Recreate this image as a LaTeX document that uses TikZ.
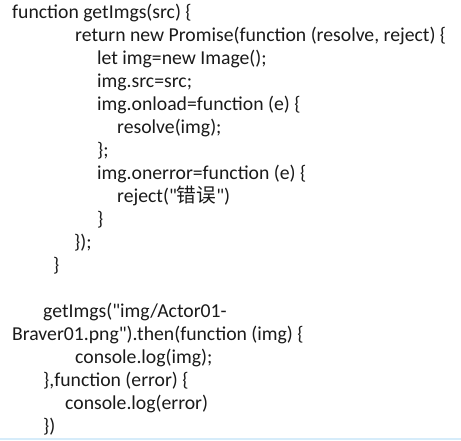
\documentclass[tikz,border=0pt]{standalone}
\usepackage{fontspec}
\setmainfont{Carlito}
\newfontfamily\cjkfont{Noto Sans CJK SC}
\usepackage{tikz}
\definecolor{codetext}{HTML}{1A1A1A}
\definecolor{edgeblue}{HTML}{D6ECFA}
\tikzset{codeline/.style={anchor=base west, inner sep=0pt, text=codetext, font=\fontsize{19.7}{23}\selectfont}}

\begin{document}
\begin{tikzpicture}[x=1pt, y=-1pt]
	% Page frame
	\useasboundingbox[fill=white] (0,0) rectangle (461,440);
	\draw[edgeblue, line width=1.5pt] (0,439) -- (461,439);

	% Default action for each node
	\tikzstyle{every node}=[codeline];

	% getImgs definition
	\node (l1)  at (12,18.5)  {function getImgs(src) \{};
	\node (l2)  at (75,41.5)  {return new Promise(function (resolve, reject) \{};
	\node (l3)  at (97,64.5)  {let img=new Image();};
	\node (l4)  at (97,87.5)  {img.src=src;};
	\node (l5)  at (97,110.5) {img.onload=function (e) \{};
	\node (l6)  at (117,133.5) {resolve(img);};
	\node (l7)  at (97,156.5) {\};};
	\node (l8)  at (97,179.5) {img.onerror=function (e) \{};
	\node (l9)  at (117,202.5) {reject(\textquotedbl{\cjkfont 错误}\textquotedbl)};
	\node (l10) at (97,225.5) {\}};
	\node (l11) at (74,248.5) {\});};
	\node (l12) at (53,271.5) {\}};

	% call
	\node (l13) at (43,317.5) {getImgs(\textquotedbl img/Actor01-};
	\node (l14) at (12,340.5) {Braver01.png\textquotedbl).then(function (img) \{};
	\node (l15) at (75,363.5) {console.log(img);};
	\node (l16) at (43,386.5) {\},function (error) \{};
	\node (l17) at (65,409.5) {console.log(error)};
	\node (l18) at (43,432.5) {\})};
\end{tikzpicture}
\end{document}
